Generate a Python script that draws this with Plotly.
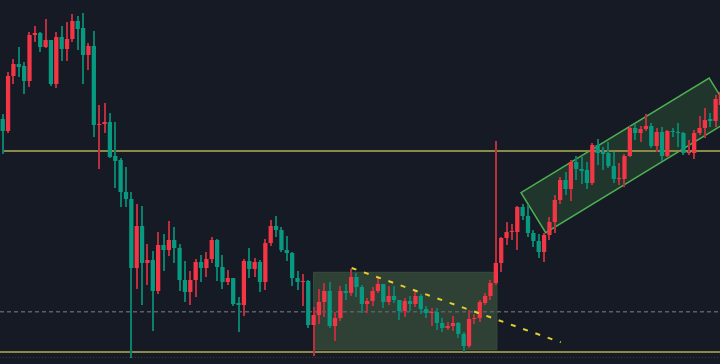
import numpy as np
import plotly.graph_objects as go

# ---- candle data (price units) ----
open_ = [245,233,288,300,298,283,329,331,317,324,
         280,327,315,325,343,336,309,318,239,240,
         242,208,204,172,165,96,138,101,104,73,
         119,114,124,116,84,72,84,102,96,105,
         124,97,82,86,61,59,103,95,102,82,
         121,138,134,114,111,86,82,83,39,49,
         62,73,38,46,73,71,87,77,60,63,
         73,80,62,68,64,53,63,60,68,55,
         51,52,41,36,38,41,30,18,45,46,
         61,68,81,101,126,132,132,157,148,131,
         123,112,129,142,164,184,175,202,195,194,
         181,219,212,211,198,185,185,208,236,231,
         235,238,218,232,208,233,232,231,211,211,
         231,236,245,243,259]
high = [250,292,305,317,302,332,338,332,345,324,
        332,338,342,350,348,351,321,333,259,261,
        251,242,206,197,172,160,158,120,113,132,
        130,143,137,120,103,93,105,109,112,127,
        125,109,94,86,67,105,116,106,104,125,
        144,148,137,128,112,93,90,84,57,75,
        81,82,52,78,80,95,91,79,66,77,
        87,80,78,78,64,66,68,73,70,58,
        56,56,46,42,48,42,32,54,50,64,
        71,84,223,127,142,140,158,160,159,134,
        130,131,147,169,187,192,204,208,207,202,
        221,225,217,222,212,201,210,238,240,238,
        250,241,236,237,234,236,241,232,224,234,
        248,256,251,269,276]
low = [210,231,280,287,270,277,322,312,316,278,
       276,303,303,322,314,280,294,227,195,231,
       206,176,157,157,6,75,59,79,33,70,
       93,108,101,73,62,59,67,82,87,101,
       83,75,79,58,32,48,86,87,72,74,
       118,127,112,103,78,74,58,36,8,40,
       47,36,23,43,64,68,67,51,51,58,
       71,56,59,61,44,47,53,57,50,46,
       38,34,32,34,33,26,12,16,40,42,
       59,64,79,92,119,124,114,144,127,117,
       106,102,124,131,160,169,163,184,180,175,
       179,199,194,196,181,179,177,207,224,222,
       233,216,212,203,207,227,217,209,209,205,
       229,226,237,237,255]
close = [233,288,300,297,283,329,331,317,324,280,
         327,315,325,343,335,309,318,239,240,242,
         207,203,172,165,96,138,101,104,73,119,
         114,124,116,84,72,84,102,96,105,124,
         97,82,86,60,59,103,95,102,82,121,
         138,134,114,111,86,82,83,39,49,62,
         73,38,46,73,71,87,77,60,63,73,
         80,62,68,64,53,63,60,68,55,51,
         52,41,36,38,41,30,18,45,46,62,
         68,81,101,126,132,133,157,148,131,123,
         112,129,142,164,184,175,202,195,193,181,
         219,211,210,198,185,186,208,236,231,235,
         238,218,232,208,233,232,231,211,212,231,
         236,244,243,265,272]

# ---- drawing levels / objects (data units) ----
resistance_level = 213      # olive horizontal line
support_level = 12          # olive bottom line
dashed_level = 52.3         # grey dashed line
dotted_level = 6.5          # faint dotted line
range_box = dict(x0=58, x1=92.2, y0=14.3, y1=91.7)
trend_line = dict(x0=65.1, y0=96, x1=104.1, y1=21.7)
channel = [(96.7, 171.3), (131.8, 286), (136.4, 246), (101.3, 131.3)]

UP_BODY, DN_BODY = "#f23645", "#089981"
UP_WICK, DN_WICK = "#b8303d", "#0a806c"
BG = "#161a25"

o = np.array(open_, float); h = np.array(high, float)
l = np.array(low, float); c = np.array(close, float)
x = np.arange(len(o))
up = c >= o

fig = go.Figure()
fig.add_trace(go.Bar(
    x=x, base=l, y=h - l, width=0.19,
    marker=dict(color=np.where(up, UP_WICK, DN_WICK), line=dict(width=0)),
    hoverinfo="skip"))
fig.add_trace(go.Bar(
    x=x, base=np.minimum(o, c), y=np.maximum(np.abs(c - o), 1.0), width=0.8,
    marker=dict(color=np.where(up, UP_BODY, DN_BODY), line=dict(width=0)),
    hoverinfo="skip"))

shapes = []
shapes.append(dict(type="rect", xref="x", yref="y", layer="below",
                   x0=range_box["x0"], x1=range_box["x1"],
                   y0=range_box["y0"], y1=range_box["y1"],
                   fillcolor="rgba(114,170,93,0.27)",
                   line=dict(color="#3a4b3e", width=1)))
path = "M " + " L ".join(f"{px},{py}" for px, py in channel) + " Z"
shapes.append(dict(type="path", xref="x", yref="y", layer="below", path=path,
                   fillcolor="rgba(76,175,80,0.18)",
                   line=dict(color="#4caf50", width=1.5)))
shapes.append(dict(type="line", xref="x", yref="y", layer="below",
                   x0=0, x1=150, y0=resistance_level, y1=resistance_level,
                   line=dict(color="#8c8848", width=2)))
shapes.append(dict(type="line", xref="x", yref="y", layer="below",
                   x0=-5, x1=150, y0=support_level, y1=support_level,
                   line=dict(color="#8c8848", width=2)))
shapes.append(dict(type="line", xref="x", yref="y", layer="below",
                   x0=-0.5, x1=150, y0=dashed_level, y1=dashed_level,
                   line=dict(color="#5b5e68", width=1.5, dash="4px,3px")))
shapes.append(dict(type="line", xref="x", yref="y", layer="below",
                   x0=-5, x1=150, y0=dotted_level, y1=dotted_level,
                   line=dict(color="#3a3d48", width=1, dash="1px,2px")))
shapes.append(dict(type="line", xref="x", yref="y", layer="above",
                   x0=trend_line["x0"], y0=trend_line["y0"],
                   x1=trend_line["x1"], y1=trend_line["y1"],
                   line=dict(color="#e2d12e", width=2, dash="5px,8px")))

fig.update_layout(
    width=720, height=364, autosize=False,
    margin=dict(l=0, r=0, t=0, b=0, pad=0),
    paper_bgcolor=BG, plot_bgcolor=BG,
    barmode="overlay", showlegend=False,
    shapes=shapes,
    xaxis=dict(visible=False, range=[-0.504, 133.82], showgrid=False, zeroline=False),
    yaxis=dict(visible=False, range=[0, 364], showgrid=False, zeroline=False),
)

fig.write_html("out.html", config={"displayModeBar": False},
               post_script="document.body.style.margin='0';document.body.style.overflow='hidden';")
